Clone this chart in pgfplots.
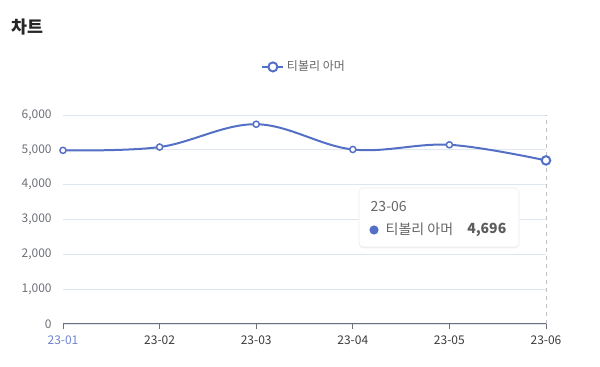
\documentclass[border=0pt]{standalone}
\usepackage{pgfplots}
\pgfplotsset{compat=1.18}
\usepackage{fontspec}
\setmainfont{Noto Sans CJK KR}
\usetikzlibrary{shadows}
\definecolor{ln}{HTML}{5470C6}
\definecolor{axc}{HTML}{6E7079}
\definecolor{grd}{HTML}{E0E6F1}
\definecolor{xl}{HTML}{3C3C3C}
\definecolor{tt}{HTML}{666666}
\begin{document}
\begin{tikzpicture}
\begin{axis}[
  at={(63*0.75pt,43*0.75pt)}, anchor=south west,
  scale only axis, width=483*0.75pt, height=209*0.75pt,
  xmin=0, xmax=5, ymin=0, ymax=6000,
  xtick={0,1,2,3,4,5},
  xticklabels={{\textcolor{ln!85!white}{23-01}},23-02,23-03,23-04,23-05,23-06},
  ytick={0,1000,2000,3000,4000,5000,6000},
  /pgf/number format/assume math mode=true,
  yticklabel style={font=\fontsize{9}{10}\selectfont, text=axc, xshift=-1pt},
  xticklabel style={font=\fontsize{9}{10}\selectfont, text=xl, yshift=-1pt},
  scaled y ticks=false,
  axis x line*=bottom, axis y line*=left,
  x axis line style={axc, line width=0.75pt, -},
  y axis line style={draw=none},
  ymajorgrids, grid style={grd, line width=0.6pt},
  tick align=outside, major tick length=4pt,
  xtick style={axc, line width=0.6pt}, ytick style={draw=none},
  clip=false,
  legend style={at={(0.5,1.23)}, anchor=center, draw=none, fill=none,
    font=\fontsize{9}{10}\selectfont, text=tt},
  legend image code/.code={
    \draw[ln, line width=1.5pt] (0pt,0pt) -- (0.55cm,0pt);
    \draw[ln, line width=1.5pt, fill=white] (0.275cm,0pt) circle (3.4pt);
  },
]
\addplot[ln, line width=1.5pt, smooth, tension=0.6, mark=*, mark size=2.3pt,
  mark options={fill=white, line width=1.1pt}]
  coordinates {(0,4985) (1,5080) (2,5735) (3,5010) (4,5145) (5,4696)};
\addlegendentry{티볼리 아머}
\addplot[gray!50, dashed, line width=0.6pt, forget plot] coordinates {(5,0) (5,6000)};
\addplot[ln, only marks, mark=*, mark size=3.2pt, mark options={fill=white, line width=1.5pt}, forget plot]
  coordinates {(5,4696)};
\end{axis}
\begin{scope}[x=0.75pt, y=0.75pt]
\path[use as bounding box] (0,0) rectangle (600,367);
\node[anchor=west, font=\fontsize{13}{14}\selectfont\bfseries, text=black!85] at (7,340) {차트};
\draw[draw=gray!15, fill=white, rounded corners=3pt, drop shadow={opacity=0.12, shadow xshift=0pt, shadow yshift=-1pt}]
  (359,179) rectangle (519,120);
\node[anchor=west, font=\fontsize{10.5}{12}\selectfont, text=tt] at (366,160) {23-06};
\fill[ln] (374,137) circle (4.6);
\node[anchor=west, font=\fontsize{10.5}{12}\selectfont, text=tt] at (381,137.5) {티볼리 아머};
\node[anchor=east, font=\fontsize{10.5}{12}\selectfont\bfseries, text=tt!90!black] at (511,137.5) {4,696};
\end{scope}
\end{tikzpicture}
\end{document}
